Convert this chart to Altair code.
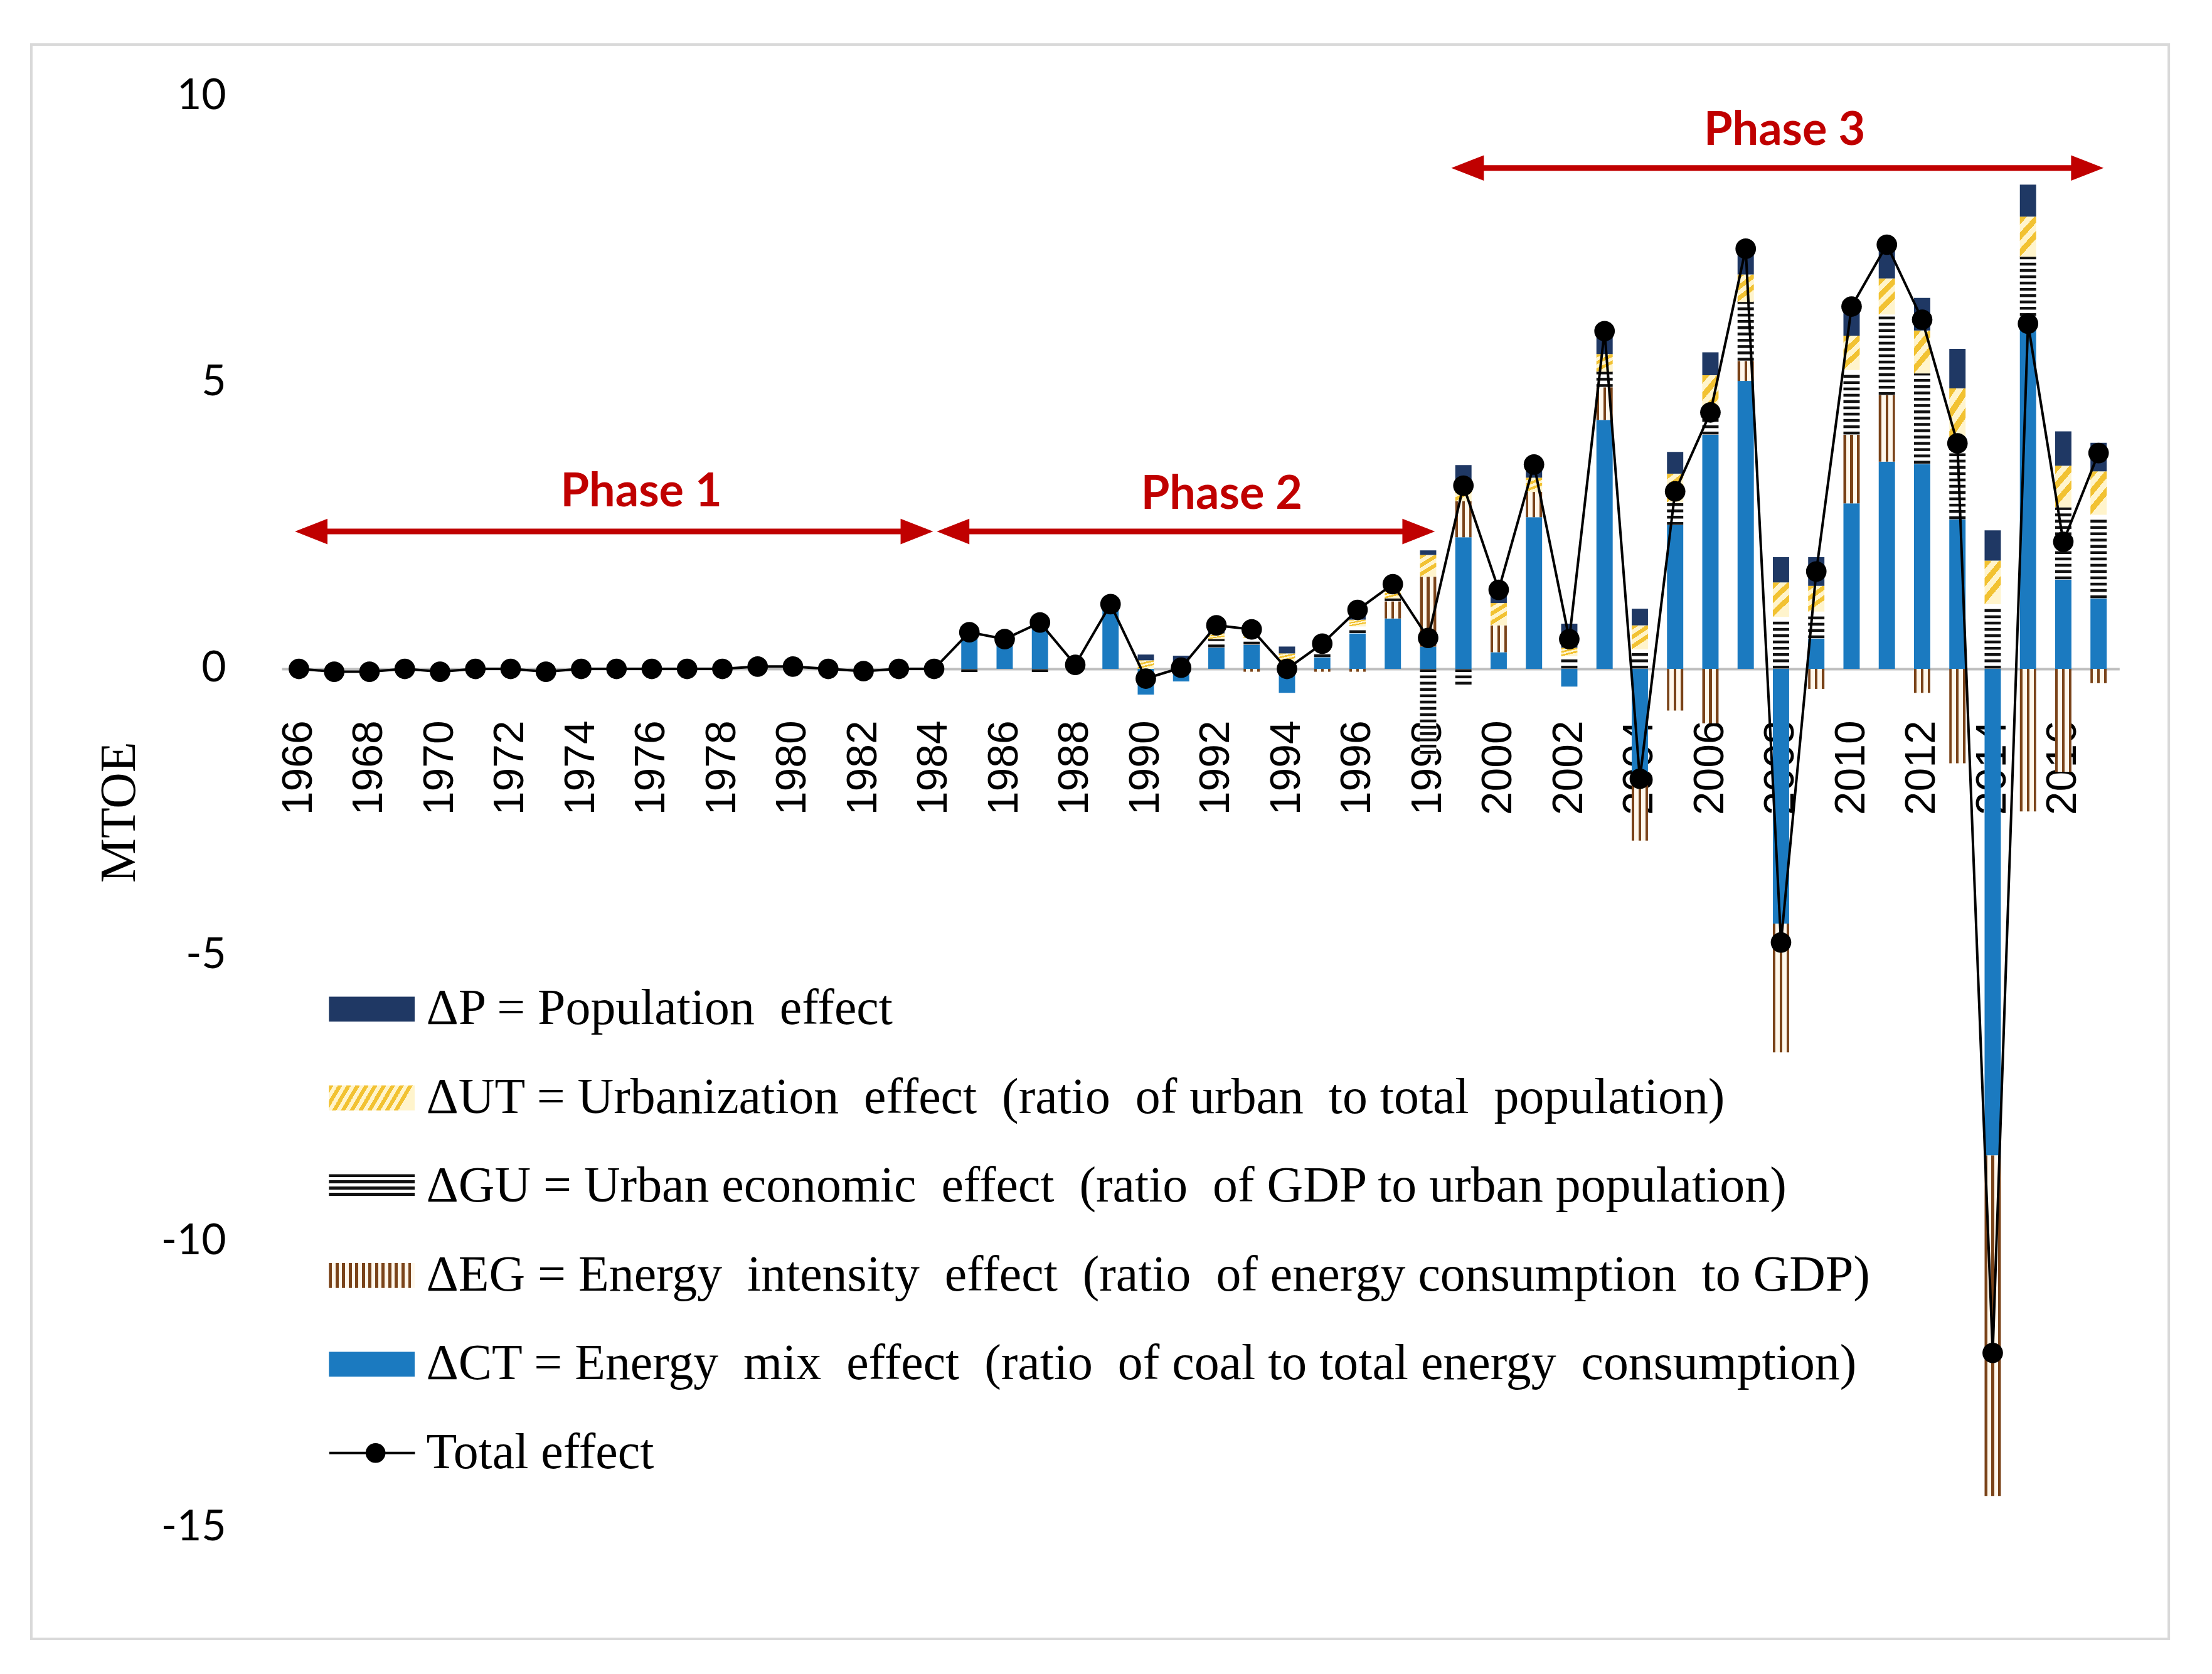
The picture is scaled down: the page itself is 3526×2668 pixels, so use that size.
import altair as alt
import pandas as pd

# ---------------- data ----------------
years = list(range(1966, 2018))
z19 = [0.0] * 19  # 1966-1984: no visible components

ct = z19 + [0.58, 0.40, 0.72, 0.05, 1.02, -0.45, -0.22, 0.37, 0.42, -0.42, 0.20, 0.62, 0.88, 0.39,
            2.30, 0.29, 2.65, -0.31, 4.35, -1.92, 2.51, 4.09, 5.03, -4.45, 0.53, 2.89, 3.62, 3.58,
            2.61, -8.50, 5.94, 1.56, 1.23]
eg = z19 + [0.0, 0.0, 0.0, 0.0, 0.0, 0.0, 0.0, 0.0, -0.05, 0.0, -0.05, -0.05, 0.30, 1.22,
            0.63, 0.47, 0.44, 0.0, 0.57, -1.08, -0.73, -0.95, 0.35, -2.25, -0.35, 1.20, 1.16, -0.42,
            -1.65, -5.95, -2.49, -1.80, -0.25]
gu = z19 + [-0.05, 0.0, -0.05, 0.0, 0.0, 0.0, 0.0, 0.15, 0.12, 0.12, 0.12, 0.12, 0.05, -1.50,
            -0.33, 0.0, 0.0, 0.22, 0.27, 0.34, 0.40, 0.30, 1.03, 0.91, 0.47, 1.13, 1.41, 1.58,
            1.35, 1.13, 1.26, 1.26, 1.46]
ut = z19 + [0.0, 0.0, 0.0, 0.0, 0.0, 0.15, 0.05, 0.10, 0.08, 0.15, 0.05, 0.12, 0.15, 0.38,
            0.33, 0.39, 0.25, 0.15, 0.31, 0.42, 0.50, 0.74, 0.48, 0.60, 0.45, 0.60, 0.63, 0.75,
            0.94, 0.76, 0.70, 0.73, 0.76]
pp = z19 + [0.10, 0.12, 0.12, 0.03, 0.12, 0.10, 0.18, 0.12, 0.12, 0.12, 0.12, 0.20, 0.10, 0.08,
            0.30, 0.20, 0.25, 0.42, 0.35, 0.29, 0.38, 0.40, 0.42, 0.44, 0.50, 0.41, 0.55, 0.57,
            0.69, 0.53, 0.56, 0.60, 0.50]
total = [0.0, -0.05, -0.05, 0.0, -0.05, 0.0, 0.0, -0.05, 0.0, 0.0, 0.0, 0.0, 0.0, 0.04, 0.04,
         0.0, -0.04, 0.0, 0.0,
         0.64, 0.52, 0.81, 0.07, 1.13, -0.17, 0.02, 0.76, 0.69, 0.0, 0.44, 1.03, 1.48, 0.54,
         3.20, 1.38, 3.57, 0.52, 5.90, -1.92, 3.10, 4.48, 7.34, -4.78, 1.70, 6.33, 7.41, 6.10,
         3.94, -11.95, 6.03, 2.22, 3.77]

comp_keys = ["CT", "EG", "GU", "UT", "P"]
legend_keys = ["P", "UT", "GU", "EG", "CT", "Total"]
S2 = "\u00a0 "  # double space as in the original legend
legend_labels = [
    "ΔP = Population" + S2 + "effect",
    "ΔUT = Urbanization" + S2 + "effect" + S2 + "(ratio" + S2 + "of urban" + S2 + "to total" + S2 + "population)",
    "ΔGU = Urban economic" + S2 + "effect" + S2 + "(ratio" + S2 + "of GDP to urban population)",
    "ΔEG = Energy" + S2 + "intensity" + S2 + "effect" + S2 + "(ratio" + S2 + "of energy consumption" + S2 + "to GDP)",
    "ΔCT = Energy" + S2 + "mix" + S2 + "effect" + S2 + "(ratio" + S2 + "of coal to total energy" + S2 + "consumption)",
    "Total effect",
]

phase_names = ["Phase 1", "Phase 2", "Phase 3"]
phase_start = [1966.1, 1984.29, 1998.87]
phase_end = [1983.76, 1997.98, 2016.93]
phase_arrow_y = [2.40, 2.40, 8.75]
phase_label_x = [1975.7, 1992.15, 2008.1]
phase_label_y = [3.08, 3.04, 9.39]

# ---------------- tables ----------------
series = [ct, eg, gu, ut, pp]
rows = []
for i, yr in enumerate(years):
    for k, key in enumerate(comp_keys):
        rows.append({"year": yr, "comp": key, "ord": k, "value": series[k][i]})
df_long = pd.DataFrame(rows)
df_total = pd.DataFrame({"year": years, "total": total})
df_phase = pd.DataFrame({"name": phase_names, "start": phase_start, "end": phase_end,
                         "ay": phase_arrow_y, "lx": phase_label_x, "ly": phase_label_y})
df_leg = pd.DataFrame({"key": legend_keys, "label": legend_labels})

# ---------------- styles ----------------
W, H = 2936, 2286
BLUE = "#1B7AC0"
NAVY = "#1F3864"
BROWN = "#7A4319"
CREAM = "#FFF8EC"
YEL = "#F2C232"
YLT = "#FFF4CC"
RED = "#C00000"
BAR_W = 26


def grad(segs, x1, y1, x2, y2):
    stops = []
    for color, a, b in segs:
        stops.append(alt.GradientStop(color=color, offset=round(a, 4)))
        stops.append(alt.GradientStop(color=color, offset=round(b, 4)))
    return alt.LinearGradient(gradient="linear", stops=stops, x1=x1, y1=y1, x2=x2, y2=y2)


def periodic(on, off, n, frac, x1, y1, x2, y2):
    segs = []
    for i in range(n):
        a = i / n
        m = a + frac / n
        b = (i + 1) / n
        segs.append((on, a, m))
        segs.append((off, m, b))
    return grad(segs, x1, y1, x2, y2)


eg_bar_fill = grad([(BROWN, 0, 0.16), (CREAM, 0.16, 0.42), (BROWN, 0.42, 0.58),
                    (CREAM, 0.58, 0.84), (BROWN, 0.84, 1)], 0, 0, 1, 0)
ut_bar_fill = periodic(YEL, YLT, 3, 0.5, 0, 0, 0.45, 1)

eg_leg_fill = periodic(BROWN, CREAM, 13, 0.45, 0, 0, 1, 0)
gu_leg_fill = periodic("#111111", "#FFFFFF", 4, 0.5, 0, 0, 0, 1)
ut_leg_fill = periodic(YEL, YLT, 10, 0.5, 0, 0, 1, 0.17)

xs = alt.Scale(domain=[1965.6, 2017.5], nice=False, zero=False)
ys = alt.Scale(domain=[-15, 10], nice=False)
y0_px = H * 10 / 25
xaxis = alt.Axis(values=list(range(1966, 2017, 2)), format="d", title=None, labelAngle=270,
                 labelFont="Liberation Sans", labelFontSize=68, labelColor="black",
                 labelPadding=82, ticks=False, tickSize=0, domainColor="#BFBFBF",
                 domainWidth=4, grid=False, offset=-(H - y0_px), labelOverlap=False,
                 labelFlush=False)
yaxis = alt.Axis(values=[-15, -10, -5, 0, 5, 10], labelExpr="'' + datum.value", title="MTOE",
                 labelFont="Lato", labelFontSize=68, labelColor="black", labelPadding=89,
                 domain=False, ticks=False, grid=False, titleFont="Liberation Serif",
                 titleFontSize=80, titleFontWeight="normal", titleColor="black",
                 titleAngle=270, titleX=-259, titleY=H / 2, titleAlign="center",
                 titleBaseline="middle")


def X(f):
    return alt.X(f, type="quantitative", scale=xs, axis=xaxis)


def Y(f):
    return alt.Y(f, type="quantitative", scale=ys, axis=yaxis)


# ---------------- main layers ----------------
border = alt.Chart(pd.DataFrame({"k": [0]})).mark_rect(
    filled=False, stroke="#D9D9D9", strokeWidth=4
).encode(x=alt.value(-400), x2=alt.value(3015), y=alt.value(-83), y2=alt.value(2464))

base = alt.Chart(df_long).transform_stack(
    stack="value", groupby=["year"], as_=["v0", "v1"],
    sort=[alt.SortField(field="ord", order="ascending")], offset="zero")


def comp_layer(key, fill):
    return base.transform_filter(alt.datum.comp == key).mark_bar(
        width=BAR_W, fill=fill, strokeWidth=0
    ).encode(x=X("year"), y=Y("v0"), y2=alt.Y2("v1"))


ct_l = comp_layer("CT", BLUE)
eg_l = comp_layer("EG", eg_bar_fill)
gu_l = comp_layer("GU", "#FFFFFF")
gu_stripes = base.transform_filter(alt.datum.comp == "GU").transform_calculate(
    s="sequence(0.03, abs(datum.value), 0.11)"
).transform_flatten(["s"]).transform_calculate(
    ys="datum.v0 + (datum.value < 0 ? -datum.s : datum.s)"
).mark_tick(orient="horizontal", size=BAR_W, thickness=4.5, color="#111111", opacity=1).encode(
    x=X("year"), y=Y("ys"))
ut_l = comp_layer("UT", ut_bar_fill)
p_l = comp_layer("P", NAVY)

line = alt.Chart(df_total).mark_line(color="black", strokeWidth=4).encode(x=X("year"), y=Y("total"))
dots = alt.Chart(df_total).mark_point(shape="circle", size=1075, filled=True, color="black",
                                      opacity=1).encode(x=X("year"), y=Y("total"))

RIGHT_HEAD = "M0.3,0L-1,-0.51L-1,0.51Z"
LEFT_HEAD = "M-0.3,0L1,-0.51L1,0.51Z"
arrow_line = alt.Chart(df_phase).mark_rule(color=RED, strokeWidth=9).encode(
    x=X("start"), x2=alt.X2("end"), y=Y("ay"))
head_r = alt.Chart(df_phase).mark_point(shape=RIGHT_HEAD, size=6400, filled=True, color=RED,
                                        opacity=1, strokeWidth=0).encode(x=X("end"), y=Y("ay"))
head_l = alt.Chart(df_phase).mark_point(shape=LEFT_HEAD, size=6400, filled=True, color=RED,
                                        opacity=1, strokeWidth=0).encode(x=X("start"), y=Y("ay"))
phase_txt = alt.Chart(df_phase).mark_text(font="Lato", fontWeight="bold", fontSize=74,
                                          color=RED).encode(x=X("lx"), y=Y("ly"), text="name:N")

main = alt.layer(border, ct_l, eg_l, gu_l, gu_stripes, ut_l, p_l, line, dots,
                 arrow_line, head_r, head_l, phase_txt)

# ---------------- legend ----------------
leg_scale = alt.Scale(type="point", domain=legend_keys, range=[1458, 2167], padding=0)
LY = alt.Y("key:N", scale=leg_scale, axis=None)
RECT = "M-1,-0.29H1V0.29H-1Z"


def swatch(key, fill):
    return alt.Chart(df_leg).transform_filter(alt.datum.key == key).mark_point(
        shape=RECT, size=137 * 137, filled=True, fill=fill, opacity=1, strokeWidth=0
    ).encode(x=alt.value(144), y=LY)


sw = [swatch("P", NAVY), swatch("UT", ut_leg_fill), swatch("GU", gu_leg_fill),
      swatch("EG", eg_leg_fill), swatch("CT", BLUE)]
tot_rule = alt.Chart(df_leg).transform_filter(alt.datum.key == "Total").mark_rule(
    color="black", strokeWidth=4).encode(x=alt.value(76), x2=alt.value(213), y=LY)
tot_dot = alt.Chart(df_leg).transform_filter(alt.datum.key == "Total").mark_point(
    shape="circle", size=1000, filled=True, color="black", opacity=1).encode(x=alt.value(150), y=LY)
leg_text = alt.Chart(df_leg).mark_text(align="left", baseline="middle", font="Liberation Serif",
                                       fontSize=80, color="black").encode(
    x=alt.value(231), y=LY, text="label:N")

legend = alt.layer(*sw, tot_rule, tot_dot, leg_text)

chart = alt.layer(main, legend).resolve_scale(y="independent").properties(
    width=W, height=H,
    autosize=alt.AutoSizeParams(type="none"),
    padding={"left": 442, "top": 143, "right": 140, "bottom": 231},
    background="white",
).configure_view(strokeWidth=0)

chart.save("out.html", embed_options={"renderer": "svg", "actions": False})
